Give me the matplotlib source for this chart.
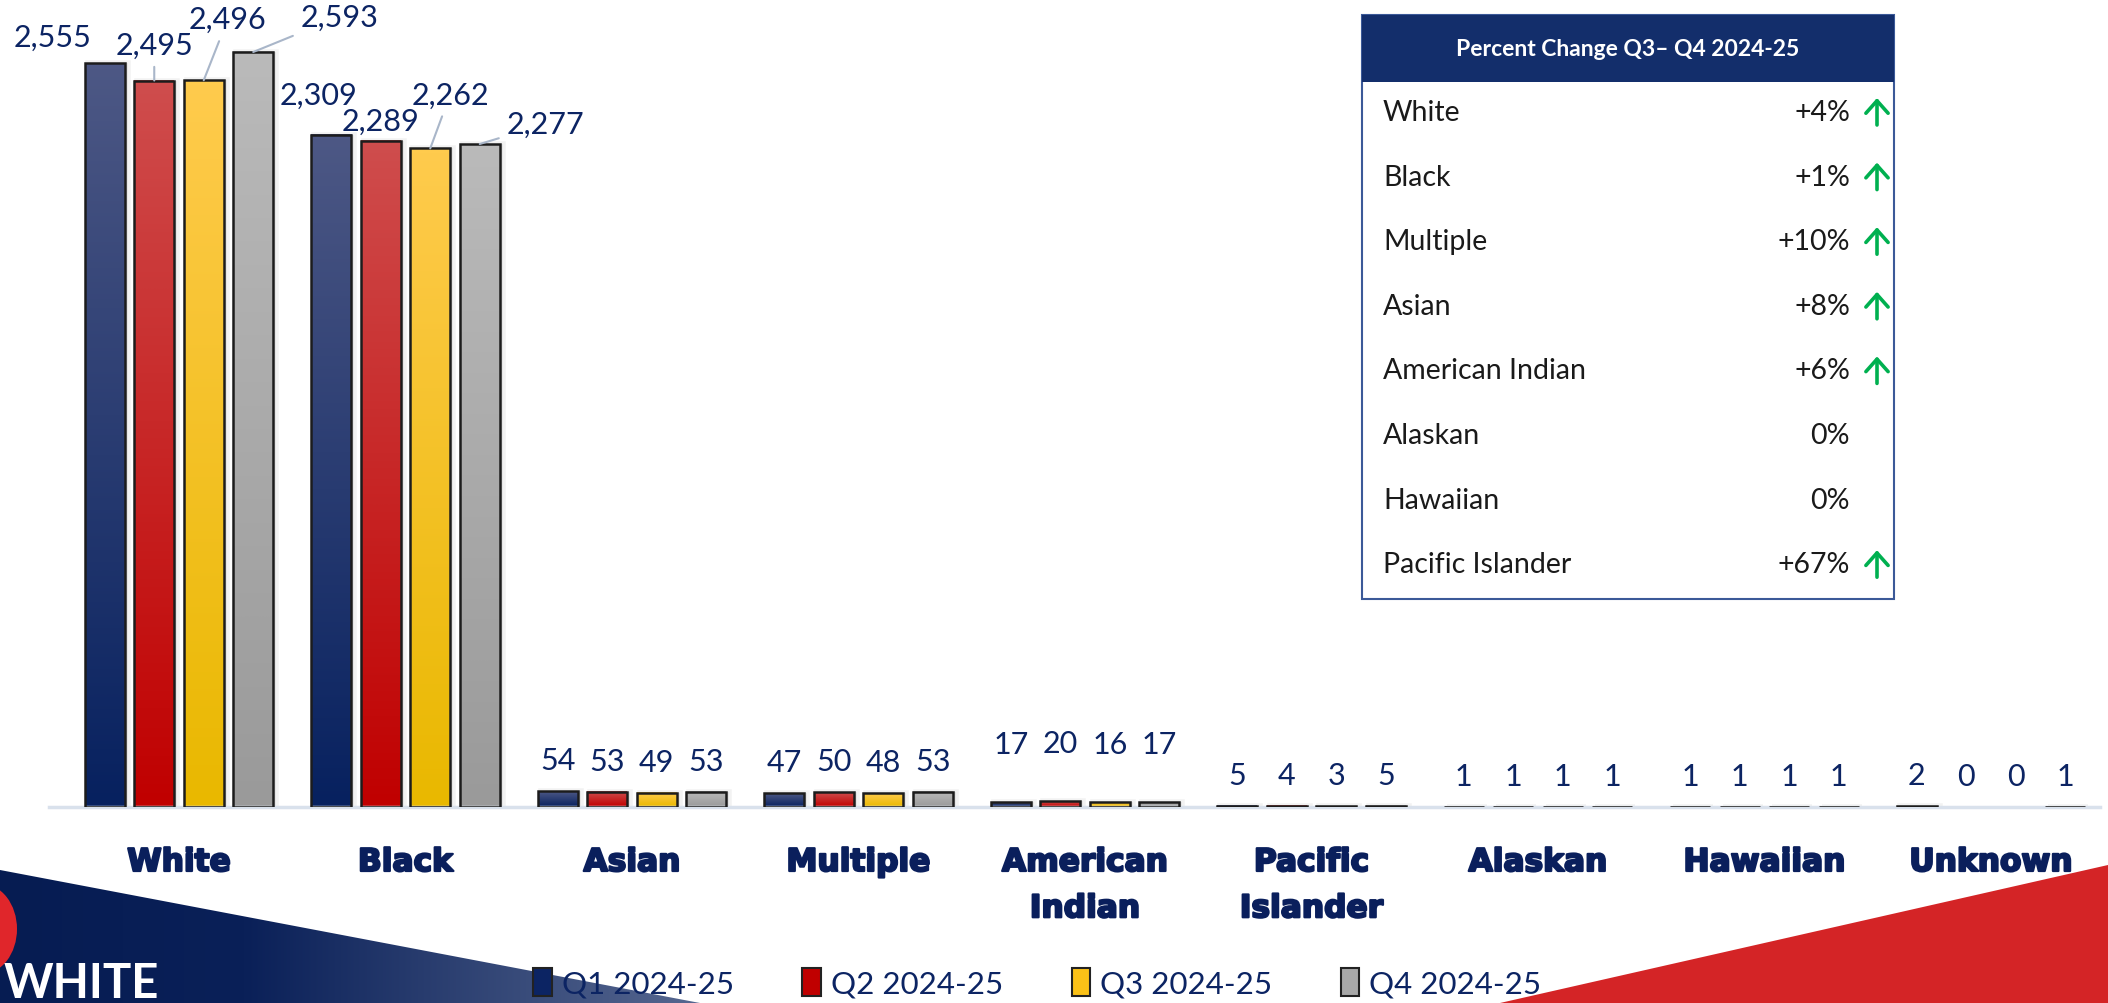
import numpy as np
import matplotlib
matplotlib.use("Agg")
import matplotlib.pyplot as plt
from matplotlib.patches import Rectangle, Polygon, Patch, Ellipse
from matplotlib.colors import LinearSegmentedColormap
import matplotlib.patheffects as pe

plt.rcParams['font.family'] = ['Lato', 'DejaVu Sans']

# ---------------------------------------------------------------- data
categories = ['White', 'Black', 'Asian', 'Multiple', 'American\nIndian',
              'Pacific\nIslander', 'Alaskan', 'Hawaiian', 'Unknown']
series = ['Q1 2024-25', 'Q2 2024-25', 'Q3 2024-25', 'Q4 2024-25']
q1 = [2555, 2309, 54, 47, 17, 5, 1, 1, 2]
q2 = [2495, 2289, 53, 50, 20, 4, 1, 1, 0]
q3 = [2496, 2262, 49, 48, 16, 3, 1, 1, 0]
q4 = [2593, 2277, 53, 53, 17, 5, 1, 1, 1]

table_title = 'Percent Change Q3\u2013 Q4 2024-25'
table_groups = ['White', 'Black', 'Multiple', 'Asian', 'American Indian',
                'Alaskan', 'Hawaiian', 'Pacific Islander']
table_changes = ['+4%', '+1%', '+10%', '+8%', '+6%', '0%', '0%', '+67%']

# ---------------------------------------------------------------- style
NAVY = '#0c2463'
LABEL_NAVY = '#0a1f5c'
grad_colors = [('#4d5885', '#07215f'),   # Q1
               ('#cf4d4d', '#c00000'),   # Q2
               ('#ffcb4d', '#e9b800'),   # Q3
               ('#bababa', '#9a9a9a')]   # Q4
solid_colors = ['#0c2463', '#c00000', '#fbc117', '#a8a8a8']

# label offsets (pixels) for the two large groups: (dx, dy, leader line)
big_label_pos = {
    (0, 0): (-52, 26, False), (0, 1): (0, 36, True),
    (0, 2): (24, 61, True), (0, 3): (86, 35, True),
    (1, 0): (-13, 40, False), (1, 1): (0, 20, False),
    (1, 2): (20, 54, True), (1, 3): (66, 20, True),
}

W, H = 2108, 1004
fig = plt.figure(figsize=(W / 100, H / 100), dpi=100)

# overlay in pixel coordinates for the decorations and the table
ov = fig.add_axes([0, 0, 1, 1])
ov.set_xlim(0, W)
ov.set_ylim(H, 0)
ov.axis('off')

# bottom left navy band with gradient
band = Polygon([(0, 871), (700, H), (0, H)], closed=True, facecolor='none',
               edgecolor='none')
ov.add_patch(band)
band_cmap = LinearSegmentedColormap.from_list(
    'band', [(0, '#061c52'), (0.35, '#0a2058'), (1, '#566790')])
gx = np.linspace(0, 1, 256).reshape(1, -1)
im = ov.imshow(gx, cmap=band_cmap, extent=[0, 700, H, 860], aspect='auto',
               interpolation='bicubic', zorder=1)
im.set_clip_path(band)
ov.add_patch(Ellipse((-18, 930), 70, 90, facecolor='#e0262b',
                     edgecolor='none', zorder=2))
ov.text(4, 962, 'WHITE', color='white', fontsize=34, fontweight='bold',
        va='top', ha='left', zorder=3)

# bottom right red wedge
ov.add_patch(Polygon([(1500, H), (W, 866), (W, H)], closed=True,
                     facecolor='#d42426', edgecolor='none', zorder=1))

# table
tx0, tx1, ty0, ty1 = 1362, 1894, 16, 600
ov.add_patch(Rectangle((tx0, ty0), tx1 - tx0, ty1 - ty0, facecolor='white',
                       edgecolor='#3b5998', linewidth=1.5, zorder=2))
ov.add_patch(Rectangle((tx0, ty0), tx1 - tx0, 67, facecolor='#132e6b',
                       edgecolor='none', zorder=3))
ov.text((tx0 + tx1) / 2, ty0 + 34, table_title, color='white', fontsize=16.5,
        fontweight='bold', ha='center', va='center', zorder=4)
for i, (grp, chg) in enumerate(zip(table_groups, table_changes)):
    y = 113 + i * 64.6
    ov.text(1383, y, grp, fontsize=20.5, color='#1a1a1a', ha='left',
            va='center', zorder=4)
    ov.text(1850, y, chg, fontsize=20.5, color='#1a1a1a', ha='right',
            va='center', zorder=4)
    if chg.startswith('+'):
        ov.annotate('', xy=(1877, y - 14), xytext=(1877, y + 13),
                    arrowprops=dict(arrowstyle='->,head_length=0.45,'
                                    'head_width=0.4', color='#00b050',
                                    lw=2.6, mutation_scale=20,
                                    shrinkA=0, shrinkB=0), zorder=4)

# ---------------------------------------------------------------- bars
ax_left, ax_right, base_px = 49, 2100, 808
ax = fig.add_axes([ax_left / W, (H - base_px) / H, (ax_right - ax_left) / W,
                   base_px / H])
ax.patch.set_visible(False)

px_per_x = 226.5
group_c0 = 179
xlim = ((ax_left - group_c0) / px_per_x, (ax_right - group_c0) / px_per_x)
ylim = (0, base_px / 0.29117)

bar_w = 40 / px_per_x
pitch = 49.5 / px_per_x
offsets = (np.arange(4) - 1.5) * pitch
x = np.arange(len(categories))
values = [q1, q2, q3, q4]
grad = np.linspace(0, 1, 128).reshape(-1, 1)
label_off = {4: 58}
LBL_FS = 22

for s, vals in enumerate(values):
    cmap = LinearSegmentedColormap.from_list('g%d' % s, grad_colors[s])
    for g, v in enumerate(vals):
        xc = x[g] + offsets[s]
        if v == 0:
            ax.annotate(str(v), xy=(xc, 0), xytext=(0, 31),
                        textcoords='offset pixels', ha='center', va='center',
                        fontsize=LBL_FS, color=NAVY)
            continue
        x0 = xc - bar_w / 2
        ax.imshow(grad, cmap=cmap, extent=[x0, x0 + bar_w, 0, v],
                  aspect='auto', interpolation='bicubic', zorder=2)
        ax.add_patch(Rectangle((x0, 0), bar_w, v, facecolor='none',
                               edgecolor='#1c1c1c', linewidth=1.8, zorder=3))
        # soft shadow
        ax.add_patch(Rectangle((x0 + 3 / px_per_x, 0), bar_w, v,
                               facecolor='#000000', alpha=0.18,
                               edgecolor='none', zorder=1.5,
                               path_effects=[pe.Stroke(linewidth=4,
                                                       foreground='#000000',
                                                       alpha=0.05)]))
        key = (g, s)
        if key in big_label_pos:
            dx, dy, line = big_label_pos[key]
            ap = None
            if line:
                ap = dict(arrowstyle='-', color='#a9b6c9', lw=1.5,
                          shrinkA=4, shrinkB=0)
            ax.annotate('{:,}'.format(v), xy=(xc, v), xytext=(dx, dy),
                        textcoords='offset pixels', ha='center',
                        va='center', fontsize=LBL_FS, color=NAVY,
                        arrowprops=ap, zorder=4)
        else:
            ax.annotate('{:,}'.format(v), xy=(xc, v),
                        xytext=(0, label_off.get(g, 31)),
                        textcoords='offset pixels', ha='center',
                        va='center', fontsize=LBL_FS, color=NAVY, zorder=4)

ax.set_xlim(*xlim)
ax.set_ylim(*ylim)
ax.set_yticks([])
ax.set_xticks([])
for sp in ['top', 'right', 'left']:
    ax.spines[sp].set_visible(False)
ax.spines['bottom'].set_color('#d9e1ec')
ax.spines['bottom'].set_linewidth(2.5)

heavy = [pe.withStroke(linewidth=1.6, foreground=LABEL_NAVY)]
for g, cat in enumerate(categories):
    ax.annotate(cat, xy=(x[g], 0), xytext=(0, -41),
                textcoords='offset pixels', ha='center', va='top',
                fontsize=22.5, fontweight='bold', family='DejaVu Sans',
                color=LABEL_NAVY, linespacing=1.75, annotation_clip=False,
                path_effects=heavy)

# ---------------------------------------------------------------- legend
handles = [Patch(facecolor=c, edgecolor='#222222', linewidth=1.5)
           for c in solid_colors]
fig.legend(handles, series, loc='center', bbox_to_anchor=(0.492, 0.02),
           ncol=4, frameon=False, fontsize=22.5, labelcolor=NAVY,
           handlelength=0.6, handleheight=1.0, handletextpad=0.3,
           columnspacing=2.2)

fig.savefig('out.png', dpi=100)
